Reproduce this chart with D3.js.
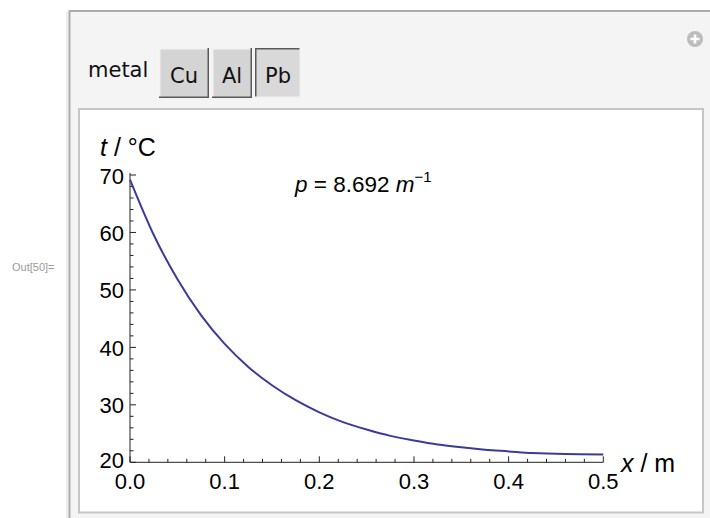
<!DOCTYPE html>
<html><head><meta charset="utf-8">
<script src="https://cdn.jsdelivr.net/npm/d3@7"></script>
<style>body{margin:0;background:#fff;overflow:hidden} svg{display:block}</style>
</head><body>
<script>
// ---- data ----
const xValues = [0, 0.025, 0.05, 0.075, 0.1, 0.125, 0.15, 0.175, 0.2, 0.225, 0.25, 0.275, 0.3, 0.325, 0.35, 0.375, 0.4, 0.425, 0.45, 0.475, 0.5];
const tValues = [69.2, 59.6, 51.9, 45.6, 40.6, 36.6, 33.4, 30.8, 28.7, 27.0, 25.7, 24.6, 23.8, 23.1, 22.6, 22.2, 21.9, 21.6, 21.5, 21.4, 21.35];
const xTicks = [0, 0.1, 0.2, 0.3, 0.4, 0.5];
const xTickLabels = ["0.0", "0.1", "0.2", "0.3", "0.4", "0.5"];
const yTicks = [20, 30, 40, 50, 60, 70];
const yTickLabels = ["20", "30", "40", "50", "60", "70"];
const metals = ["Cu", "Al", "Pb"];
const selectedMetal = "Pb";
const pLabel = "8.692";
const outLabel = "Out[50]=";

// ---- drawing ----
const W = 710, H = 518;
const svg = d3.select("body").append("svg").attr("width", W).attr("height", H);

// Out label
svg.append("text").attr("x", 12).attr("y", 271)
  .attr("font-family", "Liberation Sans, Arial, sans-serif").attr("font-size", 11)
  .attr("fill", "#9a9a9a").text(outLabel);

// outer panel
svg.append("rect").attr("x", 69.5).attr("y", 11).attr("width", 700).attr("height", 560)
  .attr("fill", "#f4f4f4").attr("stroke", "#ababab").attr("stroke-width", 2);
svg.append("line").attr("x1", 67).attr("x2", 67).attr("y1", 12).attr("y2", 518)
  .attr("stroke", "#d8d8d8").attr("stroke-width", 1);

// plus icon
const plus = svg.append("g").attr("transform", "translate(695,39)");
plus.append("circle").attr("r", 8).attr("fill", "#bcbcbc");
plus.append("path").attr("d", "M-4.5,0H4.5M0,-4.5V4.5").attr("stroke", "#fff").attr("stroke-width", 2.6);

// control label
svg.append("text").attr("x", 88).attr("y", 76.5)
  .attr("font-family", "DejaVu Sans, sans-serif").attr("font-size", 21)
  .attr("fill", "#111").text("metal");

// buttons
const btnX = d3.scaleOrdinal().domain(metals).range([159, 212, 255]);
const btnW = d3.scaleOrdinal().domain(metals).range([50, 40, 46]);
metals.forEach(m => {
  const x = btnX(m), w = btnW(m), y = 48, h = 50;
  const sel = m === selectedMetal;
  const g = svg.append("g");
  g.append("rect").attr("x", x).attr("y", y).attr("width", w).attr("height", h)
    .attr("fill", sel ? "#d9d9d9" : "#d4d4d4");
  const dark = "#5a5a5a", light = "#f2f2f2";
  g.append("path").attr("d", `M${x+0.75},${y+h}V${y+0.75}H${x+w}`)
    .attr("fill", "none").attr("stroke", sel ? dark : light).attr("stroke-width", 1.5);
  g.append("path").attr("d", `M${x},${y+h-0.75}H${x+w-0.75}V${y}`)
    .attr("fill", "none").attr("stroke", sel ? light : dark).attr("stroke-width", 1.5);
  g.append("text").attr("x", x + w / 2).attr("y", 83)
    .attr("text-anchor", "middle")
    .attr("font-family", "DejaVu Sans, sans-serif").attr("font-size", 21)
    .attr("fill", "#111").text(m);
});

// inner panel
svg.append("rect").attr("x", 79).attr("y", 109).attr("width", 624).attr("height", 403.5)
  .attr("fill", "#fff").attr("stroke", "#c6c6c6").attr("stroke-width", 2);

// scales
const x = d3.scaleLinear().domain([0, 0.5]).range([130, 603.3]);
const y = d3.scaleLinear().domain([20, 70]).range([462.3, 175]);
const font = "Liberation Sans, Arial, sans-serif";
const axisColor = "#222";

// y axis
const yAxis = svg.append("g");
yAxis.append("line").attr("x1", x(0)).attr("x2", x(0)).attr("y1", y(70.35)).attr("y2", y(20))
  .attr("stroke", axisColor).attr("stroke-width", 1);
d3.range(20, 70.001, 2).forEach(v => {
  const major = Math.abs(v % 10) < 1e-9;
  yAxis.append("line").attr("x1", x(0)).attr("x2", x(0) + (major ? 6 : 3.5))
    .attr("y1", y(v)).attr("y2", y(v)).attr("stroke", axisColor).attr("stroke-width", 1);
});
yTicks.forEach((v, i) => {
  yAxis.append("text").attr("x", x(0) - 6).attr("y", y(v) + (v === 20 ? 5.5 : 8.5))
    .attr("text-anchor", "end").attr("font-family", font).attr("font-size", 22)
    .attr("fill", "#000").text(yTickLabels[i]);
});

// x axis
const xAxis = svg.append("g");
xAxis.append("line").attr("x1", x(0)).attr("x2", x(0.5)).attr("y1", y(20)).attr("y2", y(20))
  .attr("stroke", axisColor).attr("stroke-width", 1);
d3.range(0, 25.5, 1).forEach(k => {
  const v = k * 0.02;
  const major = k % 5 === 0;
  xAxis.append("line").attr("x1", x(v)).attr("x2", x(v))
    .attr("y1", y(20)).attr("y2", y(20) - (major ? 6 : 3.5))
    .attr("stroke", axisColor).attr("stroke-width", 1);
});
xTicks.forEach((v, i) => {
  xAxis.append("text").attr("x", x(v)).attr("y", 489)
    .attr("text-anchor", "middle").attr("font-family", font).attr("font-size", 22)
    .attr("fill", "#000").text(xTickLabels[i]);
});

// axis labels
const yl = svg.append("text").attr("x", 100).attr("y", 156)
  .attr("font-family", font).attr("font-size", 25).attr("fill", "#000");
yl.append("tspan").attr("font-style", "italic").text("t");
yl.append("tspan").text(" / °C");

const xl = svg.append("text").attr("x", 621).attr("y", 472)
  .attr("font-family", font).attr("font-size", 25).attr("fill", "#000");
xl.append("tspan").attr("font-style", "italic").text("x");
xl.append("tspan").text(" / m");

// annotation
const ann = svg.append("text").attr("x", 295).attr("y", 191.5)
  .attr("font-family", font).attr("font-size", 22.5).attr("fill", "#000");
ann.append("tspan").attr("font-style", "italic").text("p");
ann.append("tspan").text(" = " + pLabel + " ");
ann.append("tspan").attr("font-style", "italic").text("m");
ann.append("tspan").attr("font-size", 15).attr("dy", -10).text("\u22121");

// curve
const pts = xValues.map((xv, i) => [xv, tValues[i]]);
svg.append("path").datum(pts)
  .attr("fill", "none").attr("stroke", "#3b3b98").attr("stroke-width", 2)
  .attr("d", d3.line().x(d => x(d[0])).y(d => y(d[1])).curve(d3.curveMonotoneX));
</script>
</body></html>
